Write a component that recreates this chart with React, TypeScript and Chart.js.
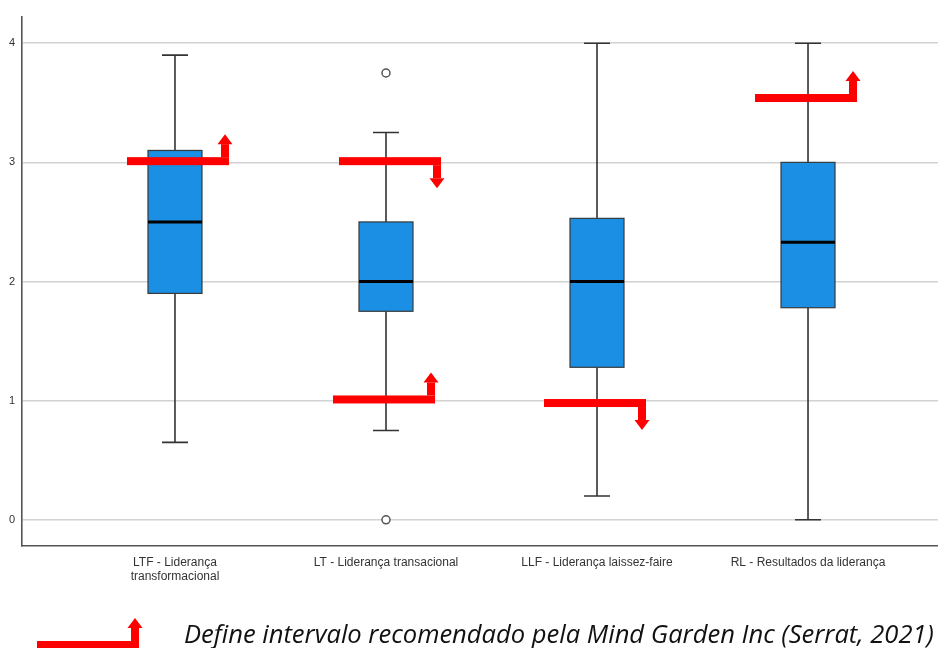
import React, { useEffect, useRef } from "react";
import { Chart, registerables } from "chart.js";

Chart.register(...registerables);

const categories: (string | string[])[] = [
  ["LTF - Liderança", "transformacional"],
  "LT - Liderança transacional",
  "LLF - Liderança laissez-faire",
  "RL - Resultados da liderança",
];
const mins = [0.65, 0.75, 0.2, 0.0];
const q1s = [1.9, 1.75, 1.28, 1.78];
const medians = [2.5, 2.0, 2.0, 2.33];
const q3s = [3.1, 2.5, 2.53, 3.0];
const maxs = [3.9, 3.25, 4.0, 4.0];
const outlierCats = [1, 1];
const outlierValues = [3.75, 0.0];
const yTicks = [0, 1, 2, 3, 4];
// red arrow annotations: category index, value, direction (1 = up, -1 = down)
const arrowCats = [0, 1, 1, 2, 3];
const arrowValues = [3.01, 3.01, 1.01, 0.98, 3.54];
const arrowDirs = [1, -1, 1, -1, 1];
const legendText = "Define intervalo recomendado pela Mind Garden Inc (Serrat, 2021)";

const RED = "#ff0000";

function drawArrow(ctx: CanvasRenderingContext2D, x0: number, x1: number, y: number, dir: number) {
  const t = 8;
  const stem = 13;
  const headW = 15;
  const headL = 10;
  ctx.save();
  ctx.fillStyle = RED;
  ctx.fillRect(x0, y - t / 2, x1 - x0, t);
  const sx = x1 - t / 2;
  if (dir > 0) {
    ctx.fillRect(x1 - t, y - t / 2 - stem, t, stem);
    ctx.beginPath();
    ctx.moveTo(sx - headW / 2, y - t / 2 - stem);
    ctx.lineTo(sx + headW / 2, y - t / 2 - stem);
    ctx.lineTo(sx, y - t / 2 - stem - headL);
    ctx.closePath();
    ctx.fill();
  } else {
    ctx.fillRect(x1 - t, y + t / 2, t, stem);
    ctx.beginPath();
    ctx.moveTo(sx - headW / 2, y + t / 2 + stem);
    ctx.lineTo(sx + headW / 2, y + t / 2 + stem);
    ctx.lineTo(sx, y + t / 2 + stem + headL);
    ctx.closePath();
    ctx.fill();
  }
  ctx.restore();
}

const boxPlugin = {
  id: "boxPlugin",
  beforeDatasetsDraw(chart: any) {
    const ctx: CanvasRenderingContext2D = chart.ctx;
    const xs = chart.scales.x;
    const ys = chart.scales.y;
    const boxW = 54;
    const capW = 26;
    ctx.save();
    for (let i = 0; i < categories.length; i++) {
      const cx = xs.getPixelForValue(i);
      const yMin = ys.getPixelForValue(mins[i]);
      const yQ1 = ys.getPixelForValue(q1s[i]);
      const yMed = ys.getPixelForValue(medians[i]);
      const yQ3 = ys.getPixelForValue(q3s[i]);
      const yMax = ys.getPixelForValue(maxs[i]);
      ctx.strokeStyle = "#333333";
      ctx.lineWidth = 1.6;
      ctx.beginPath();
      ctx.moveTo(cx, yMin);
      ctx.lineTo(cx, yQ1);
      ctx.moveTo(cx, yQ3);
      ctx.lineTo(cx, yMax);
      ctx.moveTo(cx - capW / 2, yMin);
      ctx.lineTo(cx + capW / 2, yMin);
      ctx.moveTo(cx - capW / 2, yMax);
      ctx.lineTo(cx + capW / 2, yMax);
      ctx.stroke();
      ctx.fillStyle = "#1a8fe3";
      ctx.fillRect(cx - boxW / 2, yQ3, boxW, yQ1 - yQ3);
      ctx.lineWidth = 1.2;
      ctx.strokeStyle = "#3a3a3a";
      ctx.strokeRect(cx - boxW / 2, yQ3, boxW, yQ1 - yQ3);
      ctx.strokeStyle = "#000000";
      ctx.lineWidth = 3;
      ctx.beginPath();
      ctx.moveTo(cx - boxW / 2, yMed);
      ctx.lineTo(cx + boxW / 2, yMed);
      ctx.stroke();
    }
    ctx.restore();
  },
  afterDatasetsDraw(chart: any) {
    const ctx: CanvasRenderingContext2D = chart.ctx;
    const xs = chart.scales.x;
    const ys = chart.scales.y;
    for (let k = 0; k < arrowCats.length; k++) {
      const cx = xs.getPixelForValue(arrowCats[k]);
      const y = ys.getPixelForValue(arrowValues[k]);
      const off = arrowDirs[k] < 0 && arrowCats[k] === 1 ? -47 : (arrowCats[k] === 0 ? -48 : -53);
      drawArrow(ctx, cx + off, cx + off + 102, y, arrowDirs[k]);
    }
    // legend
    drawArrow(ctx, 37, 139, 645, 1);
    ctx.save();
    let size = 22;
    ctx.font = `italic ${size}px "Open Sans"`;
    const w = ctx.measureText(legendText).width;
    size = size * 750 / w;
    ctx.font = `italic ${size}px "Open Sans"`;
    ctx.fillStyle = "#111111";
    ctx.textBaseline = "alphabetic";
    ctx.textAlign = "left";
    ctx.fillText(legendText, 184, 643);
    ctx.restore();
  },
};

export default function App() {
  const ref = useRef<HTMLCanvasElement>(null);
  useEffect(() => {
    document.body.style.margin = "0";
    const chart = new Chart(ref.current!, {
      type: "scatter",
      data: {
        datasets: [
          {
            data: outlierCats.map((c, i) => ({ x: c, y: outlierValues[i] })),
            pointRadius: 4,
            pointBackgroundColor: "#ffffff",
            pointBorderColor: "#555555",
            pointBorderWidth: 1.5,
          },
        ],
      },
      options: {
        responsive: false,
        animation: false,
        layout: { autoPadding: false, padding: { top: 17, left: 0, right: 0, bottom: 0 } },
        plugins: { legend: { display: false }, tooltip: { enabled: false } },
        scales: {
          x: {
            type: "linear",
            min: -0.725,
            max: 3.616,
            afterBuildTicks: (s: any) => {
              s.ticks = categories.map((_, i) => ({ value: i }));
            },
            afterFit: (s: any) => {
              s.height = 102;
              s.paddingLeft = 0;
              s.paddingRight = 0;
            },
            grid: { display: false, drawTicks: false },
            border: { display: true, color: "#555555", width: 1.6 },
            ticks: {
              padding: 9,
              maxRotation: 0,
              autoSkip: false,
              color: "#333333",
              font: { family: "'Liberation Sans', Arial", size: 12 },
              callback: (v: any) => categories[Math.round(Number(v))] as any,
            },
          },
          y: {
            min: -0.22,
            max: 4.22,
            afterBuildTicks: (s: any) => {
              s.ticks = yTicks.map((v) => ({ value: v }));
            },
            afterFit: (s: any) => {
              s.width = 22;
              s.paddingTop = 0;
              s.paddingBottom = 0;
            },
            grid: { color: "#d2d2d2", lineWidth: 1.5, drawTicks: false },
            border: { display: true, color: "#555555", width: 1.6 },
            ticks: {
              padding: 7,
              color: "#333333",
              font: { family: "'Liberation Sans', Arial", size: 11 },
            },
          },
        },
      },
      plugins: [boxPlugin],
    });
    return () => chart.destroy();
  }, []);
  return (
    <div style={{ position: "absolute", left: 0, top: 0, width: 938, height: 648, background: "#fff" }}>
      <canvas ref={ref} width={938} height={648} />
    </div>
  );
}
